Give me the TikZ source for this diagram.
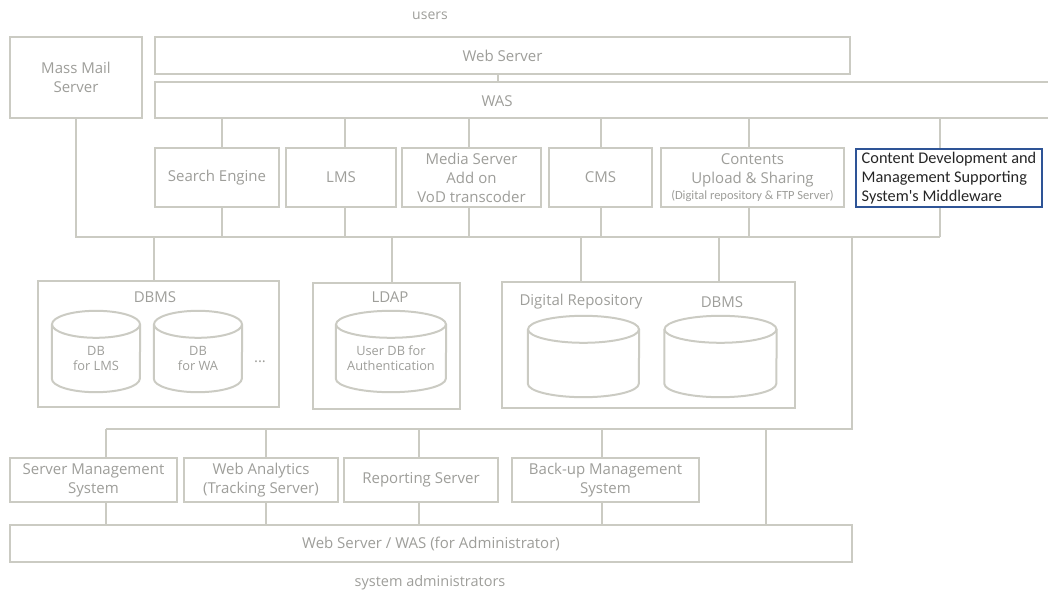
\documentclass[tikz,border=0pt]{standalone}
\usepackage{fontspec}
\setmainfont{Open Sans}
\newfontfamily\calibri{Carlito}
\definecolor{linegray}{RGB}{203,203,195}
\definecolor{textgray}{RGB}{158,158,154}
\definecolor{midblue}{RGB}{46,84,150}
\tikzset{
  sys box/.style={
    draw=linegray,
    line width=2pt,
    fill=white,
    text=textgray,
    align=center,
    inner sep=0pt,
    font=\fontsize{15}{19}\selectfont,
  },
  group box/.style={
    draw=linegray,
    line width=1.3pt,
    inner sep=0pt,
  },
  can body/.style={
    text=textgray,
    align=center,
    inner sep=0pt,
    minimum height=67.5,
    font=\fontsize{12.8}{15}\selectfont,
  },
  can line/.style={
    draw=linegray,
    line width=2pt,
  },
  plain text/.style={
    text=textgray,
    font=\fontsize{15}{19}\selectfont,
  },
  wire/.style={
    draw=linegray,
    line width=2.5pt,
  },
}
% database can: name, body centre, half width, text
\newcommand{\dbcan}[4]{
  \node[can body, minimum width=2*#3] (#1) at (#2) {#4};
  \draw[can line] (#1.north) ellipse[x radius=#3, y radius=13.5];
  \draw[can line] (#1.north west) -- ([yshift=13.5pt]#1.south west)
    arc[start angle=180, end angle=0, x radius=#3, y radius=13.5] -- (#1.north east);
}

\begin{document}
\begin{tikzpicture}[x=1pt, y=-1pt]
      \useasboundingbox (0,0) rectangle (1048,593);

      \node[plain text, font=\fontsize{14}{17}\selectfont] (users) at (430,16) {users};

      % front tier
      \node[sys box, minimum width=132, minimum height=81] (mail) at (76,77.5) {Mass Mail\\Server};
      \node[sys box, minimum width=695, minimum height=37] (web) at (502.5,55.5) {Web Server};
      \node[sys box, minimum width=896, minimum height=36] (was) at (603,100) {};
      \node[plain text] (wastext) at (497,101) {WAS};
      \draw[wire, line width=2pt] (web.south -| 498,0) -- (was.north -| 498,0);

      % application servers
      \node[sys box, minimum width=124, minimum height=59] (search) at (217,177.5) {Search Engine};
      \node[sys box, minimum width=110, minimum height=59] (lms) at (341,177.5) {LMS};
      \node[sys box, minimum width=139, minimum height=59] (media) at (471.5,177.5) {Media Server\\Add on\\VoD transcoder};
      \node[sys box, minimum width=103, minimum height=59] (cms) at (600.5,177.5) {CMS};
      \node[sys box, minimum width=183, minimum height=59] (contents) at (752.5,177.5)
        {Contents\\Upload \& Sharing\\[-3pt]{\calibri\fontsize{12.5}{14}\selectfont(Digital repository \& FTP Server)}};
      \node[sys box, draw=midblue, line width=1.6pt, text=black!85, align=left, minimum width=186, minimum height=58,
            font=\calibri\fontsize{16.3}{19}\selectfont] (cdm) at (949,178)
        {Content Development and\\Management Supporting\\System's Middleware};

      \coordinate (bus) at (0,237);
      \coordinate (lowbus) at (0,429);

      \foreach \n/\x in {search/222, lms/345, media/469, cms/601, contents/749, cdm/940} {
        \draw[wire] (was.south -| \x,0) -- (\n.north -| \x,0);
        \draw[wire] (\n.south -| \x,0) -- (bus -| \x,0);
      }
      \draw[wire] (mail.south) |- (bus -| 940,0);

      % storage
      \node[group box, minimum width=241, minimum height=126] (dbms) at (158.5,344) {};
      \node[plain text] (dbmstitle) at (155,297) {DBMS};
      \dbcan{dblms}{96,358.25}{44}{DB\\for LMS}
      \dbcan{dbwa}{198,358.25}{44}{DB\\for WA}
      \node[plain text] (more) at (260,362) {...};

      \node[group box, minimum width=147, minimum height=126] (ldap) at (386.5,346) {};
      \node[plain text] (ldaptitle) at (390,297) {LDAP};
      \dbcan{userdb}{391,358.25}{55}{User DB for\\Authentication}

      \node[group box, minimum width=293, minimum height=126] (store) at (648.5,345) {};
      \node[plain text] (reptitle) at (581,302) {Digital Repository};
      \node[plain text] (dbms2title) at (722,302) {DBMS};
      \dbcan{repo}{583.5,363.25}{55.5}{}
      \dbcan{contentdb}{720.5,363.25}{56}{}

      \draw[wire] (bus -| 154,0) -- (dbms.north -| 154,0);
      \draw[wire] (bus -| 392,0) -- (ldap.north -| 392,0);
      \draw[wire] (bus -| 581,0) -- (store.north -| 581,0);
      \draw[wire] (bus -| 719,0) -- (store.north -| 719,0);

      % administration tier
      \node[sys box, minimum width=167, minimum height=44] (sms) at (93.5,480) {Server Management\\System};
      \node[sys box, minimum width=154, minimum height=44] (wa) at (261,480) {Web Analytics\\(Tracking Server)};
      \node[sys box, minimum width=154, minimum height=44] (report) at (421,480) {Reporting Server};
      \node[sys box, minimum width=187, minimum height=44] (backup) at (605.5,480) {Back-up Management\\System};
      \node[sys box, minimum width=842, minimum height=37] (admin) at (431,543.5) {Web Server / WAS (for Administrator)};

      \draw[wire] (bus -| 852,0) -- (lowbus -| 852,0) -- (lowbus -| 106,0);
      \foreach \n/\x in {sms/106, wa/266, report/419, backup/602} {
        \draw[wire] (lowbus -| \x,0) -- (\n.north -| \x,0);
        \draw[wire] (\n.south -| \x,0) -- (admin.north -| \x,0);
      }
      \draw[wire] (lowbus -| 766,0) -- (admin.north -| 766,0);

      \node[plain text, font=\fontsize{14.5}{17}\selectfont] (admins) at (430,583) {system administrators};
    \end{tikzpicture}
\end{document}
